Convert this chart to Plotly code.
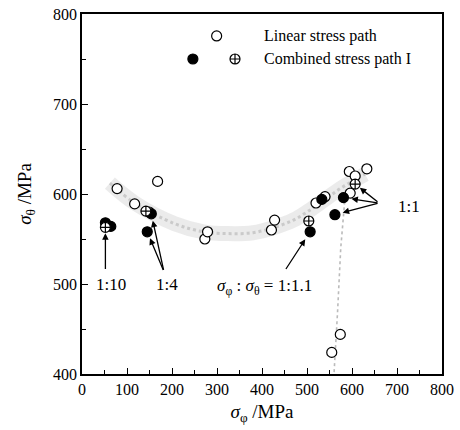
import plotly.graph_objects as go

# ---- data ----
linear_x = [78, 117, 149, 168, 273, 279, 421, 428, 520, 540, 596, 594, 607, 633, 555, 574]
linear_y = [606, 589, 580, 614, 550, 558, 560, 571, 590, 597, 601, 625, 620, 628, 424, 444]

comb_solid_x = [52, 64, 154, 145, 507, 533, 581, 562]
comb_solid_y = [568, 564, 578, 558, 558, 594, 596, 577]

comb_cross_x = [52, 142, 504, 607]
comb_cross_y = [563, 581, 570, 611]

band_x = [62, 117, 206, 270, 325, 380, 428, 470, 503, 540, 577, 629]
band_y = [612, 590, 567, 558, 556, 557, 563, 571, 581, 594, 607, 622]

vline_x = [586, 575, 568, 560]
vline_y = [605, 540, 470, 400]

x_ticks = [0, 100, 200, 300, 400, 500, 600, 700, 800]
y_ticks = [400, 500, 600, 700, 800]

FONT = "Liberation Serif"

fig = go.Figure()

# grey band (stippled look)
fig.add_trace(go.Scatter(x=band_x, y=band_y, mode="lines", line=dict(color="rgba(210,210,210,0.45)", width=15, shape="spline"),
                         hoverinfo="skip", showlegend=False))
fig.add_trace(go.Scatter(x=band_x, y=band_y, mode="lines", line=dict(color="rgba(170,170,170,0.5)", width=3, shape="spline", dash="dot"),
                         hoverinfo="skip", showlegend=False))
fig.add_trace(go.Scatter(x=vline_x, y=vline_y, mode="lines", line=dict(color="rgba(180,180,180,0.9)", width=1.6, dash="dot"),
                         hoverinfo="skip", showlegend=False))

mk_line = dict(color="black", width=1.2)
fig.add_trace(go.Scatter(x=linear_x, y=linear_y, mode="markers", name="Linear stress path",
                         marker=dict(symbol="circle", size=10, color="white", line=mk_line), showlegend=False))
fig.add_trace(go.Scatter(x=comb_solid_x, y=comb_solid_y, mode="markers", name="Combined stress path I",
                         marker=dict(symbol="circle", size=10, color="black", line=mk_line), showlegend=False))
fig.add_trace(go.Scatter(x=comb_cross_x, y=comb_cross_y, mode="markers", name="Combined stress path I",
                         marker=dict(symbol="circle-cross", size=10, color="white", line=mk_line), showlegend=False))

# manual legend keys on an overlay axis (fractions of the plot area)
fig.add_trace(go.Scatter(x=[0.374], y=[0.939], xaxis="x2", yaxis="y2", mode="markers",
                         marker=dict(symbol="circle", size=10, color="white", line=mk_line), showlegend=False, hoverinfo="skip"))
fig.add_trace(go.Scatter(x=[0.308], y=[0.875], xaxis="x2", yaxis="y2", mode="markers",
                         marker=dict(symbol="circle", size=10, color="black", line=mk_line), showlegend=False, hoverinfo="skip"))
fig.add_trace(go.Scatter(x=[0.425], y=[0.875], xaxis="x2", yaxis="y2", mode="markers",
                         marker=dict(symbol="circle-cross", size=10, color="white", line=mk_line), showlegend=False, hoverinfo="skip"))

annotations = [
    dict(x=0.5, y=0.939, xref="x2 domain", yref="y2 domain", text="Linear stress path", showarrow=False,
         xanchor="left", yanchor="middle", font=dict(family=FONT, size=16, color="black")),
    dict(x=0.5, y=0.875, xref="x2 domain", yref="y2 domain", text="Combined stress path I", showarrow=False,
         xanchor="left", yanchor="middle", font=dict(family=FONT, size=16, color="black")),
]

# arrows (head at point, tail in data coords)
arrow_specs = [
    (52, 563, 52, 515, 6),
    (154, 578, 182, 514, 7),
    (145, 558, 182, 514, 7),
    (507, 558, 451, 515, 9),
    (607, 611, 660, 590, 6),
    (581, 596, 660, 590, 8),
    (562, 577, 660, 590, 8),
]
for hx, hy, tx, ty, so in arrow_specs:
    annotations.append(dict(x=hx, y=hy, ax=tx, ay=ty, xref="x", yref="y", axref="x", ayref="y",
                            text="", showarrow=True, arrowhead=2, arrowsize=1, arrowwidth=1.3,
                            arrowcolor="black", standoff=so))

labels = [
    (65, 499, "1:10"),
    (188, 499, "1:4"),
    (405, 497, "<i>σ</i><sub>φ</sub> : <i>σ</i><sub>θ</sub> = 1:1.1"),
    (726, 586, "1:1"),
]
for lx, ly, t in labels:
    annotations.append(dict(x=lx, y=ly, xref="x", yref="y", text=t, showarrow=False,
                            font=dict(family=FONT, size=17, color="black")))

axis_common = dict(showline=True, linecolor="black", linewidth=1.8, mirror=True, ticks="inside",
                   ticklen=6, tickwidth=1.3, tickcolor="black", showgrid=False, zeroline=False,
                   automargin=False,
                   tickfont=dict(family=FONT, size=16, color="black"))

fig.update_layout(
    width=460, height=430,
    margin=dict(l=82, r=18, t=14, b=56),
    paper_bgcolor="white", plot_bgcolor="white",
    showlegend=False,
    font=dict(family=FONT, color="black"),
    xaxis=dict(range=[0, 800], tickvals=x_ticks, minor=dict(ticks="inside", dtick=50, ticklen=4, tickcolor="black"),
               title=dict(text="<i>σ</i><sub>φ</sub> /MPa", font=dict(family=FONT, size=19, color="black"), standoff=8),
               **axis_common),
    yaxis=dict(range=[400, 800], tickvals=y_ticks, minor=dict(ticks="inside", dtick=50, ticklen=4, tickcolor="black"),
               title=dict(text="<i>σ</i><sub>θ</sub> /MPa", font=dict(family=FONT, size=19, color="black"), standoff=16),
               **axis_common),
    xaxis2=dict(range=[0, 1], overlaying="x", visible=False),
    yaxis2=dict(range=[0, 1], overlaying="y", visible=False),
    annotations=annotations,
)

# remove the default page margin so the 460x430 figure fills the window exactly
fig.write_html("out.html", config={"displayModeBar": False},
               post_script="document.body.style.margin='0';document.body.style.overflow='hidden';")
